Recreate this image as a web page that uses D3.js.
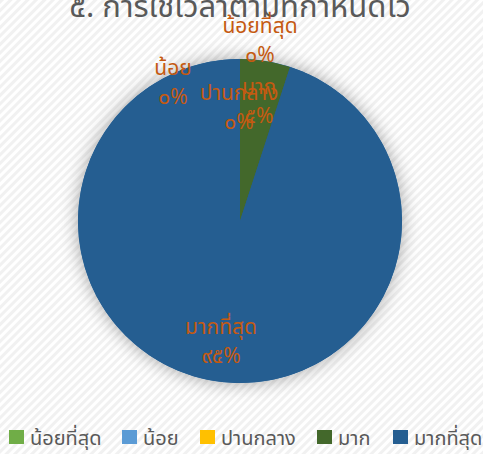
<!DOCTYPE html>
<html>
<head>
<meta charset="utf-8">
<script src="https://cdn.jsdelivr.net/npm/d3@7"></script>
<style>
body { margin: 0; }
svg { display: block; font-family: "Leelawadee UI", "Noto Sans Thai", "DejaVu Sans", "Noto Sans", sans-serif; }
</style>
</head>
<body>
<div id="chart"></div>
<script>
const categories = ['น้อยที่สุด', 'น้อย', 'ปานกลาง', 'มาก', 'มากที่สุด'];
const values = [0, 0, 0, 5, 95];
const valueLabels = ['๐%', '๐%', '๐%', '๕%', '๙๕%'];
const colors = ['#70AD47', '#5B9BD5', '#FFC000', '#43682B', '#255E91'];
const title = '๕. การใช้เวลาตามที่กำหนดไว้';

const width = 483, height = 454;
const cx = 240, cy = 221, radius = 162;

const svg = d3.select('#chart')
                .append('svg')
                .attr('width', width)
                .attr('height', height);

const defs = svg.append('defs');

let pattern = defs.append('pattern')
            .attr('id', 'stripes')
            .attr('width', 6)
            .attr('height', 6)
            .attr('patternUnits', 'userSpaceOnUse')
            .attr('patternTransform', 'rotate(-45)');
pattern.append('rect').attr('width', 6).attr('height', 6).attr('fill', '#ffffff');
pattern.append('rect').attr('width', 6).attr('height', 3).attr('fill', '#f1f1f1');

let shadow = defs.append('filter')
            .attr('id', 'glow')
            .attr('x', '-30%').attr('y', '-30%')
            .attr('width', '160%').attr('height', '160%');
shadow.append('feDropShadow')
            .attr('dx', 0)
            .attr('dy', 0)
            .attr('stdDeviation', 9)
            .attr('flood-color', '#000')
            .attr('flood-opacity', 0.35);

svg.append('rect')
    .attr('width', width)
    .attr('height', height)
    .attr('fill', 'url(#stripes)');

svg.append('text')
    .attr('x', 240)
    .attr('y', 17)
    .style('text-anchor', 'middle')
    .style('fill', '#595959')
    .style('font-size', '31px')
    .text(title);

// pie
let pie = d3.pie().sort(null).value(d => d);
let arcs = pie(values);
let arc = d3.arc().innerRadius(0).outerRadius(radius);

let g = svg.append('g')
            .attr('transform', 'translate(' + cx + ',' + cy + ')');

g.append('circle')
    .attr('r', radius)
    .attr('fill', colors[4])
    .attr('filter', 'url(#glow)');

g.selectAll('path')
    .data(arcs)
    .enter()
    .append('path')
    .attr('d', arc)
    .attr('fill', (d, i) => colors[i]);

// label placement: non-zero slices at 0.75r centroid, zero slices nudged like excel did
let labelArc = d3.arc().innerRadius(radius * 0.75).outerRadius(radius * 0.75);
const zeroOffsets = [[20, -181], [-67, -139], [-1, -114]];

let labels = g.selectAll('.lbl')
            .data(arcs)
            .enter()
            .append('g')
            .attr('class', 'lbl')
            .attr('transform', (d, i) => {
                let p = d.value > 0 ? labelArc.centroid(d) : zeroOffsets[i];
                return 'translate(' + p[0] + ',' + p[1] + ')';
            });

labels.append('text')
    .attr('y', -7)
    .style('text-anchor', 'middle')
    .style('fill', '#C55A11')
    .style('font-size', '21px')
    .text((d, i) => categories[i]);

labels.append('text')
    .attr('y', 22)
    .style('text-anchor', 'middle')
    .style('fill', '#C55A11')
    .style('font-size', '21px')
    .text((d, i) => valueLabels[i]);

// legend
const legendX = [9, 122, 200, 317, 393];
let legend = svg.selectAll('.legend')
            .data(categories)
            .enter()
            .append('g')
            .attr('class', 'legend')
            .attr('transform', (d, i) => 'translate(' + legendX[i] + ',430)');

legend.append('rect')
    .attr('width', 15)
    .attr('height', 14)
    .attr('fill', (d, i) => colors[i]);

legend.append('text')
    .attr('x', 21)
    .attr('y', 15)
    .style('fill', '#595959')
    .style('font-size', '20px')
    .text(d => d);
</script>
</body>
</html>
